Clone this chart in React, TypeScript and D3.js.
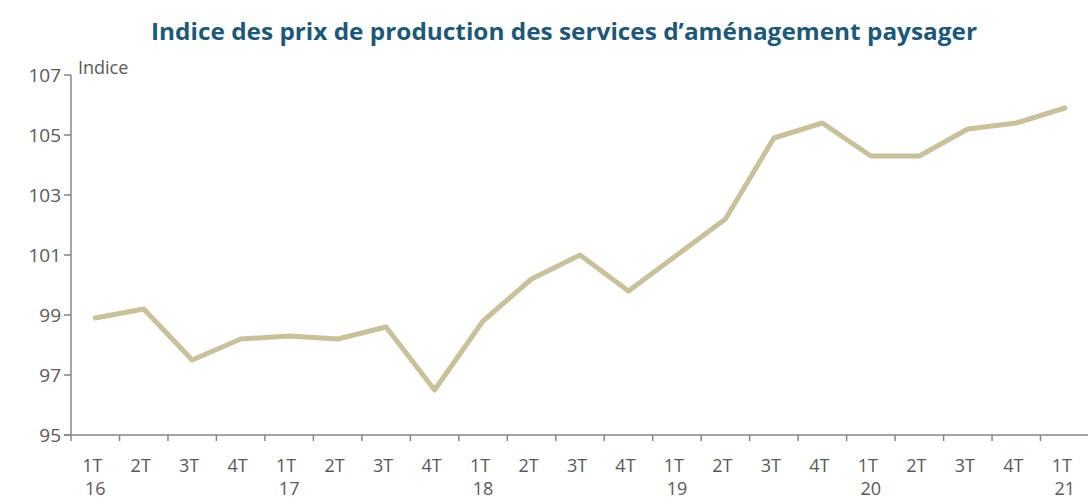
import React from "react";
import * as d3 from "d3";

const quarters = ["1T","2T","3T","4T","1T","2T","3T","4T","1T","2T","3T","4T","1T","2T","3T","4T","1T","2T","3T","4T","1T"];
const years = ["16","","","","17","","","","18","","","","19","","","","20","","","","21"];
const values = [98.9,99.2,97.5,98.2,98.3,98.2,98.6,96.5,98.8,100.2,101.0,99.8,101.0,102.2,104.9,105.4,104.3,104.3,105.2,105.4,105.9];
const yTicks = [95,97,99,101,103,105,107];
const title = "Indice des prix de production des services d\u2019aménagement paysager";
const yLabel = "Indice";

export default function App() {
  const W = 1088, H = 502;
  const left = 71, right = 1089, top = 75, bottom = 435;
  const idx = values.map((_, i) => i);
  const x = d3.scaleBand<number>().domain(idx).range([left, right]).padding(0);
  const y = d3.scaleLinear().domain([95, 107]).range([bottom, top]);
  const line = d3.line<number>().x((_, i) => (x(i) as number) + x.bandwidth() / 2).y(d => y(d));
  const axisColor = "#868686";
  const textColor = "#595959";
  const font = "'Open Sans', sans-serif";
  return (
    <svg width={W} height={H} style={{ position: "absolute", left: 0, top: 0 }}>
      <rect width={W} height={H} fill="#fff" />
      <text x={564} y={40} textAnchor="middle" fontFamily={font} fontWeight={700} fontSize={23} fill="#1D5878" textLength={826} lengthAdjust="spacingAndGlyphs">{title}</text>
      <text x={78} y={74} fontFamily={font} fontSize={18} fill={textColor}>{yLabel}</text>
      {/* y axis */}
      <line x1={left} x2={left} y1={top} y2={bottom} stroke={axisColor} strokeWidth={1.5} />
      {yTicks.map(t => (
        <g key={t}>
          <line x1={left - 7} x2={left} y1={y(t)} y2={y(t)} stroke={axisColor} strokeWidth={1.5} />
          <text x={61} y={y(t)} dy="0.35em" textAnchor="end" fontFamily={font} fontSize={19} fill={textColor}>{t}</text>
        </g>
      ))}
      {/* x axis */}
      <line x1={left - 7} x2={W} y1={bottom} y2={bottom} stroke={axisColor} strokeWidth={1.5} />
      {idx.map(i => (
        <line key={"t" + i} x1={(x(i) as number) + x.bandwidth()} x2={(x(i) as number) + x.bandwidth()} y1={bottom} y2={bottom + 6} stroke={axisColor} strokeWidth={1.5} />
      ))}
      <line x1={left} x2={left} y1={bottom} y2={bottom + 6} stroke={axisColor} strokeWidth={1.5} />
      {idx.map(i => {
        const cx = (x(i) as number) + x.bandwidth() / 2;
        return (
          <g key={"l" + i}>
            <text x={cx - 3} y={472} textAnchor="middle" fontFamily={font} fontSize={18} fill={textColor}>{quarters[i]}</text>
            {years[i] && <text x={cx} y={495} textAnchor="middle" fontFamily={font} fontSize={18} fill={textColor}>{years[i]}</text>}
          </g>
        );
      })}
      <path d={line(values) || ""} fill="none" stroke="#C9C09C" strokeWidth={5} strokeLinejoin="round" strokeLinecap="round" />
    </svg>
  );
}
